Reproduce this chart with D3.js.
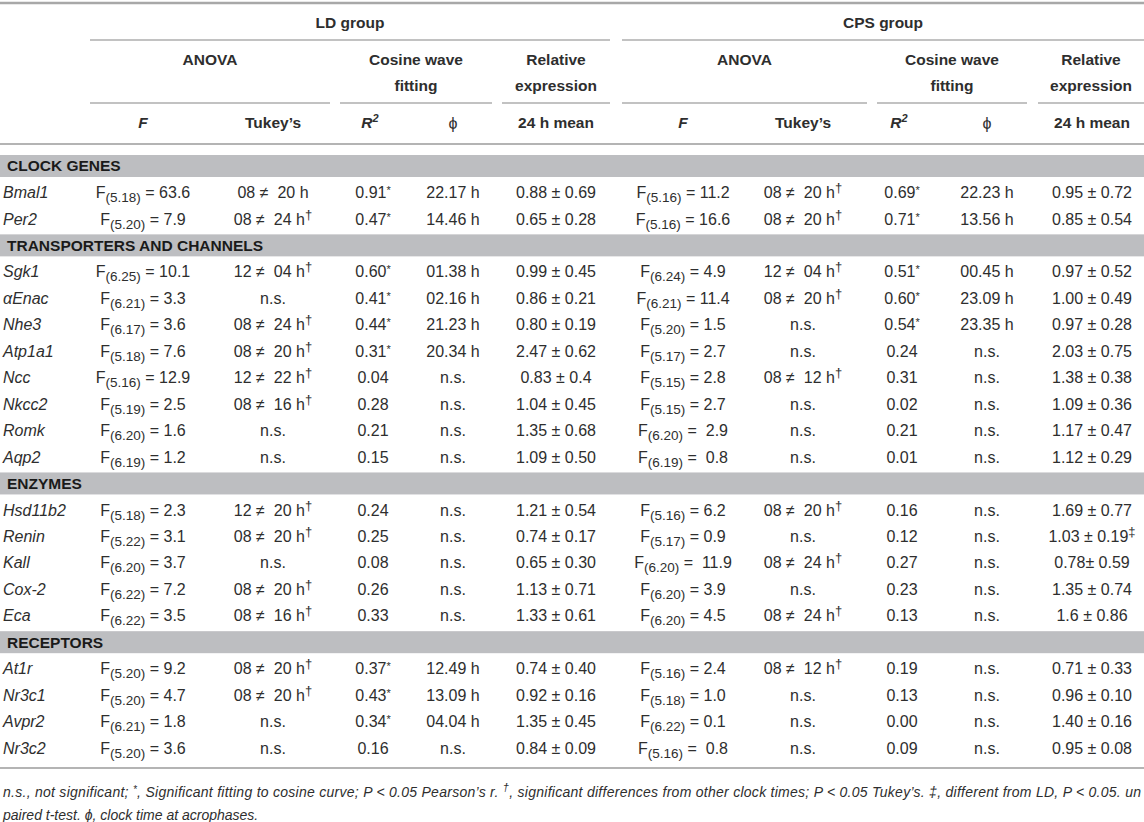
<!DOCTYPE html>
<html>
<head>
<meta charset="utf-8">
<script src="https://cdn.jsdelivr.net/npm/d3@7"></script>
<style>
  body { margin: 0; background: #fff; }
  svg text { font-family: "Liberation Sans", Arial, sans-serif; fill: #2e2e2e; white-space: pre; }
</style>
</head>
<body>
<div id="table"></div>
<script>
var sections = ["CLOCK GENES", "TRANSPORTERS AND CHANNELS", "ENZYMES", "RECEPTORS"];
var sectionSizes = [2, 8, 5, 4];
var genes = ["Bmal1", "Per2", "Sgk1", "αEnac", "Nhe3", "Atp1a1", "Ncc", "Nkcc2", "Romk", "Aqp2",
             "Hsd11b2", "Renin", "Kall", "Cox-2", "Eca", "At1r", "Nr3c1", "Avpr2", "Nr3c2"];

// LD group
var ldDf     = ["5.18", "5.20", "6.25", "6.21", "6.17", "5.18", "5.16", "5.19", "6.20", "6.19",
                "5.18", "5.22", "6.20", "6.22", "6.22", "5.20", "5.20", "6.21", "5.20"];
var ldF      = ["63.6", "7.9", "10.1", "3.3", "3.6", "7.6", "12.9", "2.5", "1.6", "1.2",
                "2.3", "3.1", "3.7", "7.2", "3.5", "9.2", "4.7", "1.8", "3.6"];
var ldTukey  = ["08 ≠  20 h", "08 ≠  24 h†", "12 ≠  04 h†", "n.s.", "08 ≠  24 h†", "08 ≠  20 h†", "12 ≠  22 h†", "08 ≠  16 h†", "n.s.", "n.s.",
                "12 ≠  20 h†", "08 ≠  20 h†", "n.s.", "08 ≠  20 h†", "08 ≠  16 h†", "08 ≠  20 h†", "08 ≠  20 h†", "n.s.", "n.s."];
var ldR2     = ["0.91*", "0.47*", "0.60*", "0.41*", "0.44*", "0.31*", "0.04", "0.28", "0.21", "0.15",
                "0.24", "0.25", "0.08", "0.26", "0.33", "0.37*", "0.43*", "0.34*", "0.16"];
var ldPhi    = ["22.17 h", "14.46 h", "01.38 h", "02.16 h", "21.23 h", "20.34 h", "n.s.", "n.s.", "n.s.", "n.s.",
                "n.s.", "n.s.", "n.s.", "n.s.", "n.s.", "12.49 h", "13.09 h", "04.04 h", "n.s."];
var ldMean   = ["0.88 ± 0.69", "0.65 ± 0.28", "0.99 ± 0.45", "0.86 ± 0.21", "0.80 ± 0.19", "2.47 ± 0.62", "0.83 ± 0.4", "1.04 ± 0.45", "1.35 ± 0.68", "1.09 ± 0.50",
                "1.21 ± 0.54", "0.74 ± 0.17", "0.65 ± 0.30", "1.13 ± 0.71", "1.33 ± 0.61", "0.74 ± 0.40", "0.92 ± 0.16", "1.35 ± 0.45", "0.84 ± 0.09"];

// CPS group
var cpsDf    = ["5.16", "5.16", "6.24", "6.21", "5.20", "5.17", "5.15", "5.15", "6.20", "6.19",
                "5.16", "5.17", "6.20", "6.20", "6.20", "5.16", "5.18", "6.22", "5.16"];
var cpsF     = ["11.2", "16.6", "4.9", "11.4", "1.5", "2.7", "2.8", "2.7", " 2.9", " 0.8",
                "6.2", "0.9", " 11.9", "3.9", "4.5", "2.4", "1.0", "0.1", " 0.8"];
var cpsTukey = ["08 ≠  20 h†", "08 ≠  20 h†", "12 ≠  04 h†", "08 ≠  20 h†", "n.s.", "n.s.", "08 ≠  12 h†", "n.s.", "n.s.", "n.s.",
                "08 ≠  20 h†", "n.s.", "08 ≠  24 h†", "n.s.", "08 ≠  24 h†", "08 ≠  12 h†", "n.s.", "n.s.", "n.s."];
var cpsR2    = ["0.69*", "0.71*", "0.51*", "0.60*", "0.54*", "0.24", "0.31", "0.02", "0.21", "0.01",
                "0.16", "0.12", "0.27", "0.23", "0.13", "0.19", "0.13", "0.00", "0.09"];
var cpsPhi   = ["22.23 h", "13.56 h", "00.45 h", "23.09 h", "23.35 h", "n.s.", "n.s.", "n.s.", "n.s.", "n.s.",
                "n.s.", "n.s.", "n.s.", "n.s.", "n.s.", "n.s.", "n.s.", "n.s.", "n.s."];
var cpsMean  = ["0.95 ± 0.72", "0.85 ± 0.54", "0.97 ± 0.52", "1.00 ± 0.49", "0.97 ± 0.28", "2.03 ± 0.75", "1.38 ± 0.38", "1.09 ± 0.36", "1.17 ± 0.47", "1.12 ± 0.29",
                "1.69 ± 0.77", "1.03 ± 0.19‡", "0.78± 0.59", "1.35 ± 0.74", "1.6 ± 0.86", "0.71 ± 0.33", "0.96 ± 0.10", "1.40 ± 0.16", "0.95 ± 0.08"];

var groups = ["LD group", "CPS group"];
var subHeads = [["ANOVA", ""], ["Cosine wave", "fitting"], ["Relative", "expression"]];

// ---- layout ----
var width = 1144, height = 822;

var svg = d3.select("#table").append("svg")
    .attr("width", width)
    .attr("height", height);

// column centers
var colX = d3.scaleOrdinal()
    .domain(["ldF", "ldTukey", "ldR2", "ldPhi", "ldMean", "cpsF", "cpsTukey", "cpsR2", "cpsPhi", "cpsMean"])
    .range([143, 273, 373, 453, 556, 683, 803, 902, 987, 1092]);

// spans of the header rules: [group span, anova, cosine, relative]
var groupSpans = [[90, 610], [622, 1144]];
var subSpans = [[[90, 330], [340, 492], [502, 610]], [[622, 867], [877, 1027], [1038, 1144]]];

// body lines: section bars and gene rows on one even pitch
var lines = [];
var gi = 0;
sections.forEach(function(s, si) {
  lines.push({type: "section", label: s});
  for (var k = 0; k < sectionSizes[si]; k++) { lines.push({type: "row", i: gi}); gi++; }
});

var y = d3.scaleLinear()
    .domain([0, lines.length - 1])
    .range([166, 748]);

// ---- helpers ----
function rule(x1, x2, yy, color, w) {
  svg.append("line")
      .attr("x1", x1).attr("x2", x2)
      .attr("y1", yy).attr("y2", yy)
      .attr("stroke", color)
      .attr("stroke-width", w);
}

function headText(x, yy, str, opts) {
  opts = opts || {};
  return svg.append("text")
      .attr("x", x).attr("y", yy)
      .attr("dy", "0.35em")
      .attr("text-anchor", opts.anchor || "middle")
      .attr("font-size", opts.size || 15.5)
      .attr("font-weight", opts.weight || "bold")
      .attr("font-style", opts.style || "normal")
      .text(str);
}

// cell text with sub/superscript markers
function cell(x, yy, kind, a, b) {
  var t = svg.append("text")
      .attr("x", x).attr("y", yy)
      .attr("dy", "0.35em")
      .attr("text-anchor", "middle")
      .attr("font-size", 16);
  if (kind === "F") {
    t.append("tspan").text("F");
    t.append("tspan").attr("font-size", 13.5).attr("dy", 4).text("(" + a + ")");
    t.append("tspan").attr("dy", -4).text(" = " + b);
    return;
  }
  var mark = a.slice(-1);
  if (mark === "†" || mark === "‡") {
    t.append("tspan").text(a.slice(0, -1));
    t.append("tspan").attr("font-size", 13).attr("dy", -6).text(mark);
  } else if (mark === "*") {
    t.append("tspan").text(a.slice(0, -1));
    t.append("tspan").attr("font-size", 11).attr("dy", -4).text("*");
  } else {
    t.text(a);
  }
}

// ---- header ----
rule(0, width, 3, "#a8a8a8", 2.5);

groups.forEach(function(g, k) {
  var sp = groupSpans[k];
  headText((sp[0] + sp[1]) / 2, 23, g);
  rule(sp[0], sp[1], 40, "#c2c2c2", 2);
  subSpans[k].forEach(function(s, j) {
    var cx = (s[0] + s[1]) / 2;
    headText(cx, 60, subHeads[j][0]);
    if (subHeads[j][1]) headText(cx, 86, subHeads[j][1]);
    rule(s[0], s[1], 103, "#c2c2c2", 2);
  });
});

["ld", "cps"].forEach(function(p) {
  headText(colX(p + "F"), 123, "F", {style: "italic"});
  headText(colX(p + "Tukey"), 123, "Tukey’s");
  var r2 = headText(colX(p + "R2") - 3, 123, "", {style: "italic"});
  r2.append("tspan").text("R");
  r2.append("tspan").attr("font-size", 11).attr("dy", -6).text("2");
  headText(colX(p + "Phi"), 123, "ϕ", {weight: "normal", size: 16});
  headText(colX(p + "Mean"), 123, "24 h mean");
});

rule(0, width, 144, "#b4b4b4", 2);

// ---- body ----
var body = svg.append("g");

lines.forEach(function(d, li) {
  var yy = y(li);
  if (d.type === "section") {
    body.append("rect")
        .attr("x", 0).attr("width", width)
        .attr("y", yy - 11).attr("height", 22)
        .attr("fill", "#bdbec1");
    body.append("text")
        .attr("x", 7).attr("y", yy)
        .attr("dy", "0.35em")
        .attr("font-size", 15.5)
        .attr("font-weight", "bold")
        .style("fill", "#1a1a1a")
        .text(d.label);
    return;
  }
  var i = d.i;
  svg.append("text")
      .attr("x", 3).attr("y", yy)
      .attr("dy", "0.35em")
      .attr("font-size", 16)
      .attr("font-style", "italic")
      .text(genes[i]);

  cell(colX("ldF"), yy, "F", ldDf[i], ldF[i]);
  cell(colX("ldTukey"), yy, "t", ldTukey[i]);
  cell(colX("ldR2"), yy, "t", ldR2[i]);
  cell(colX("ldPhi"), yy, "t", ldPhi[i]);
  cell(colX("ldMean"), yy, "t", ldMean[i]);

  cell(colX("cpsF"), yy, "F", cpsDf[i], cpsF[i]);
  cell(colX("cpsTukey"), yy, "t", cpsTukey[i]);
  cell(colX("cpsR2"), yy, "t", cpsR2[i]);
  cell(colX("cpsPhi"), yy, "t", cpsPhi[i]);
  cell(colX("cpsMean"), yy, "t", cpsMean[i]);
});

rule(0, width, 768, "#b4b4b4", 2);

// ---- footnote ----
var f1 = svg.append("text")
    .attr("x", 3).attr("y", 792)
    .attr("dy", "0.35em")
    .attr("font-size", 14)
    .attr("font-style", "italic")
    .attr("textLength", 1138)
    .attr("lengthAdjust", "spacing");
f1.append("tspan").text("n.s., not significant; ");
f1.append("tspan").attr("font-size", 10).attr("dy", -4).text("*");
f1.append("tspan").attr("dy", 4).text(", Significant fitting to cosine curve; P < 0.05 Pearson’s r. ");
f1.append("tspan").attr("font-size", 11).attr("dy", -6).text("†");
f1.append("tspan").attr("dy", 6).text(", significant differences from other clock times; P < 0.05 Tukey’s. ‡, different from LD, P < 0.05. un");

svg.append("text")
    .attr("x", 3).attr("y", 815)
    .attr("dy", "0.35em")
    .attr("font-size", 14)
    .attr("font-style", "italic")
    .text("paired t-test. ϕ, clock time at acrophases.");
</script>
</body>
</html>
